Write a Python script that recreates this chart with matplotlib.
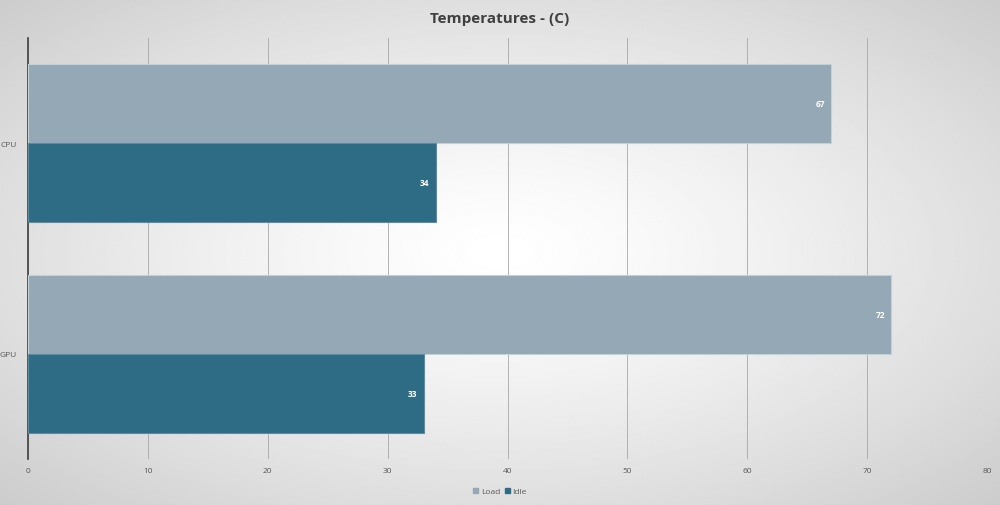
import numpy as np
import matplotlib
matplotlib.use('Agg')
import matplotlib.pyplot as plt
from matplotlib.patches import Patch

categories = ['CPU', 'GPU']
load_values = [67, 72]
idle_values = [34, 33]
x_ticks = [0, 10, 20, 30, 40, 50, 60, 70, 80]

load_color = '#94a8b5'
idle_color = '#2e6b85'

plt.rcParams['font.family'] = ['Open Sans', 'DejaVu Sans']

fig = plt.figure(figsize=(10, 5.06), dpi=100)

# radial grey background
bg = fig.add_axes([0, 0, 1, 1], zorder=0)
yy, xx = np.mgrid[-1:1:300j, -1:1:600j]
r = np.sqrt(xx ** 2 + yy ** 2) / np.sqrt(2)
shade = 1.0 - 0.2 * r ** 1.3
bg.imshow(shade, cmap='gray', vmin=0, vmax=1, aspect='auto', extent=[0, 1, 0, 1])
bg.axis('off')

ax = fig.add_axes([0.028, 0.091, 0.959, 0.832], zorder=1)
ax.set_facecolor('none')

y = np.arange(len(categories))
h = 0.375
bars_load = ax.barh(y - h / 2, load_values, height=h, color=load_color,
                    edgecolor='#c4d0d8', linewidth=0.8, label='Load', zorder=3)
bars_idle = ax.barh(y + h / 2, idle_values, height=h, color=idle_color,
                    edgecolor='#5d8ba0', linewidth=0.8, label='Idle', zorder=3)

for bars in (bars_load, bars_idle):
    for b in bars:
        ax.text(b.get_width() - 0.5, b.get_y() + b.get_height() / 2, f'{int(b.get_width())}',
                ha='right', va='center', color='white', fontsize=6, fontweight='bold', zorder=4)

ax.set_ylim(1.5, -0.5)
ax.set_xlim(0, 80)
ax.set_xticks(x_ticks)
ax.set_yticks(y)
ax.set_yticklabels(categories)
ax.tick_params(axis='both', length=0, labelsize=6, colors='#595959')
ax.tick_params(axis='x', pad=6)
ax.tick_params(axis='y', pad=8)
ax.grid(axis='x', color='#a8a8a8', linewidth=0.6, zorder=0)
for side in ('top', 'right', 'bottom'):
    ax.spines[side].set_visible(False)
ax.spines['left'].set_color('#404040')
ax.spines['left'].set_linewidth(1.2)

fig.text(0.5, 0.962, 'Temperatures - (C)', ha='center', va='center',
         fontsize=11, fontweight='bold', color='#404040')

handles = [Patch(color=load_color, label='Load'), Patch(color=idle_color, label='Idle')]
fig.legend(handles=handles, loc='center', bbox_to_anchor=(0.5, 0.027), ncol=2,
           frameon=False, fontsize=6, handlelength=0.6, handleheight=0.6,
           handletextpad=0.3, columnspacing=0.6, labelcolor='#595959')

fig.savefig('out.png', dpi=100)
